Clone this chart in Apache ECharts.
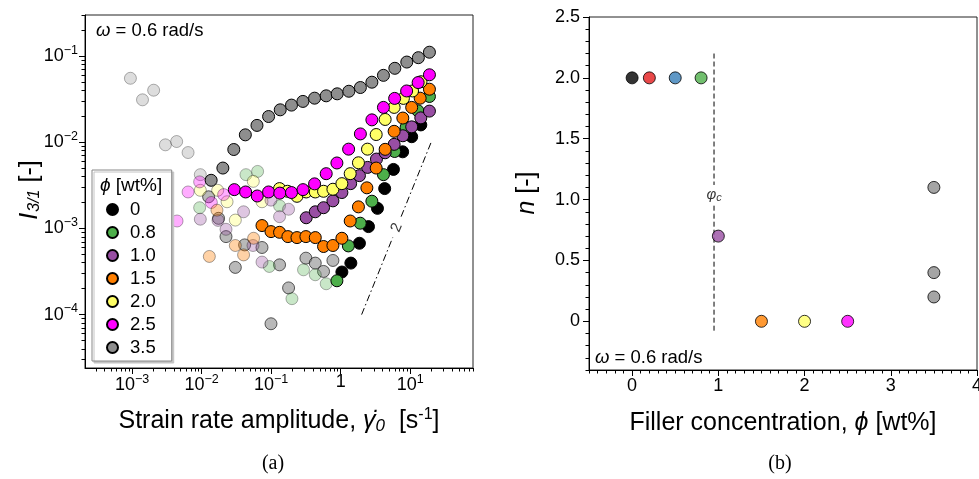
<!DOCTYPE html>
<html><head><meta charset="utf-8">
<script src="https://cdn.jsdelivr.net/npm/echarts@6/dist/echarts.min.js"></script>
<style>html,body{margin:0;padding:0;background:#fff}#c{width:979px;height:479px}</style>
</head><body><div id="c"></div>
<script>
const FONT = '"Liberation Sans", Arial, Helvetica, sans-serif';
const SERIF = '"Liberation Serif", "Times New Roman", serif';

// ---------- Panel (a): [strain rate amplitude (1/s), I3/1 (-)] ----------
const phiLabels = ['0', '0.8', '1.0', '1.5', '2.0', '2.5', '3.5'];
const i31_phi0 = [[1.04,3.12e-4],[1.40,3.96e-4],[1.86,6.73e-4],[2.51,1.05e-3],[3.38,1.71e-3],[4.29,2.90e-3],[5.74,4.84e-3],[7.78,7.75e-3],[10.5,1.16e-2],[14.2,1.59e-2]];
const i31_phi08 = [[0.882,2.47e-4],[1.29,6.27e-4],[1.91,1.15e-3],[2.81,2.07e-3],[4.12,4.21e-3],[5.97,7.82e-3],[8.73,1.49e-2],[12.9,2.32e-2],[18.9,3.40e-2]];
const i31_phi10 = [[0.319,1.33e-3],[0.431,1.56e-3],[0.567,1.74e-3],[0.773,2.09e-3],[1.04,2.61e-3],[1.39,3.31e-3],[1.86,4.10e-3],[2.44,5.11e-3],[3.27,6.38e-3],[4.36,7.55e-3],[5.87,9.46e-3],[7.83,1.19e-2],[10.5,1.51e-2],[14.2,1.92e-2],[18.9,2.30e-2]];
const i31_phi15 = [[0.0738,1.08e-3],[0.0994,9.19e-4],[0.132,9.02e-4],[0.174,8.04e-4],[0.235,7.83e-4],[0.316,8.04e-4],[0.431,7.83e-4],[0.567,6.17e-4],[0.773,6.34e-4],[1.04,7.69e-4],[1.37,1.22e-3],[1.80,1.78e-3],[2.38,2.96e-3],[3.24,5.02e-3],[4.36,8.28e-3],[5.87,1.34e-2],[7.83,1.91e-2],[10.5,2.54e-2],[13.9,3.25e-2],[18.9,4.13e-2]];
const i31_phi20 = [[0.132,2.90e-3],[0.172,2.70e-3],[0.235,2.36e-3],[0.319,2.65e-3],[0.431,2.65e-3],[0.567,2.70e-3],[0.773,2.85e-3],[1.04,3.31e-3],[1.37,4.32e-3],[1.80,5.78e-3],[2.43,8.32e-3],[3.24,1.23e-2],[4.36,1.84e-2],[5.87,2.54e-2],[7.98,3.23e-2],[10.8,3.94e-2],[14.3,5.04e-2]];
const i31_phi25 = [[0.0295,2.82e-3],[0.0429,2.65e-3],[0.0631,2.38e-3],[0.0918,2.65e-3],[0.133,2.57e-3],[0.196,2.61e-3],[0.287,2.82e-3],[0.421,3.29e-3],[0.619,4.32e-3],[0.882,5.75e-3],[1.30,8.32e-3],[1.92,1.25e-2],[2.81,1.82e-2],[4.12,2.54e-2],[5.97,3.23e-2],[8.88,3.94e-2],[13.0,4.93e-2],[18.9,6.07e-2]];
const i31_phi35 = [[0.0137,3.62e-3],[0.0202,5.02e-3],[0.0290,8.24e-3],[0.0425,1.22e-2],[0.0625,1.57e-2],[0.0918,1.99e-2],[0.135,2.38e-2],[0.196,2.70e-2],[0.286,2.98e-2],[0.421,3.25e-2],[0.619,3.46e-2],[0.891,3.65e-2],[1.31,3.91e-2],[1.92,4.32e-2],[2.81,4.98e-2],[4.12,5.98e-2],[6.01,7.22e-2],[8.93,8.53e-2],[13.1,9.59e-2],[18.9,0.111]];

// faded (unreliable, low-torque) points
const fade_phi35_light = [[9.45e-4,0.0553],[1.41e-3,0.0311],[2.04e-3,0.0402],[3.01e-3,9.34e-3],[4.37e-3,1.02e-2],[6.38e-3,7.60e-3],[9.57e-3,4.21e-3]];
const fade_phi35_mid = [[0.0126,2.33e-3],[0.0175,1.31e-3],[0.0224,8.04e-4],[0.0305,3.53e-4],[0.0415,6.44e-4],[0.0738,6.01e-4],[0.132,3.78e-4],[0.178,2.04e-4],[0.0994,7.83e-5],[0.316,4.52e-4],[0.431,3.96e-4],[0.567,3.17e-4],[0.773,4.25e-4]];
const fade_phi08 = [[0.0434,4.21e-3],[0.0638,4.59e-3],[9.36e-3,1.74e-3],[0.132,1.83e-3],[0.094,3.62e-4],[0.199,1.53e-4],[0.292,3.31e-4],[0.431,2.90e-4],[0.619,2.28e-4]];
const fade_phi20 = [[0.0553,3.52e-3],[9.57e-3,2.77e-3],[0.0170,2.77e-3],[0.0232,2.04e-3],[0.0305,1.25e-3],[0.0738,2.04e-3]];
const fade_phi25 = [[9.36e-3,3.47e-3],[6.38e-3,2.65e-3],[0.0207,2.47e-3],[0.0138,2.00e-3],[4.43e-3,1.22e-3]];
const fade_phi10 = [[9.57e-3,1.28e-3],[0.0172,1.24e-3],[0.0401,1.56e-3],[0.0224,9.77e-4],[0.0548,6.34e-4],[0.0738,4.07e-4],[0.178,1.67e-3],[0.132,1.37e-3],[0.0994,2.13e-3]];
const fade_phi15 = [[0.0166,1.63e-3],[0.0305,6.34e-4],[0.0401,4.93e-4],[0.0559,7.69e-4],[0.0129,4.73e-4]];

// slope-2 guide line (two pieces around its label) and the label anchor
const slopeGuideLower = [[2, 1.0e-4], [5.6, 7.84e-4]];
const slopeGuideUpper = [[7.4, 1.37e-3], [20, 1.0e-2]];
const slopeLabelAt = [[6.4, 1.02e-3]];

// axis ticks panel (a)
const xMajorA = [1e-3, 1e-2, 1e-1, 1, 10];
const yMajorA = [1e-4, 1e-3, 1e-2, 1e-1];

// ---------- Panel (b): filler concentration vs exponent n ----------
const phiB = [0, 0.2, 0.5, 0.8, 1.0, 1.5, 2.0, 2.5, 3.5, 3.5, 3.5];
const nB   = [2, 2, 2, 2, 0.7, 0, 0, 0, 1.1, 0.4, 0.2];
const phiCritLineUpper = [[0.95, 2.2], [0.95, 1.12]];
const phiCritLineLower = [[0.95, 0.95], [0.95, -0.1]];
const phiCritLabelAt = [[0.95, 1.035]];
const xMajorB = [0, 1, 2, 3, 4];
const yMajorB = [0, 0.5, 1.0, 1.5, 2.0, 2.5];

// ---------- styles ----------
const seriesColors = ['#000000', '#4daf4a', '#984ea3', '#ff7f00', '#ffff66', '#ff00ff', '#8e8e8e'];
const colorsB = ['#000000', '#e41a1c', '#377eb8', '#4daf4a', '#984ea3', '#ff7f00', '#ffff66', '#ff00ff', '#8e8e8e', '#8e8e8e', '#8e8e8e'];

function logMinors(lo, hi) {
  const out = [];
  for (let e = -6; e <= 3; e++) for (let m = 2; m <= 9; m++) {
    const v = +(m * Math.pow(10, e)).toPrecision(3);
    if (v >= lo && v <= hi) out.push(v);
  }
  return out;
}
function linMinors(lo, hi, step, majorStep) {
  const out = [];
  for (let i = Math.round(lo / step); i <= Math.round(hi / step); i++) {
    const v = +(i * step).toFixed(3);
    if (Math.abs(v / majorStep - Math.round(v / majorStep)) > 1e-6) out.push(v);
  }
  return out;
}
const XA = [2.1e-4, 80], YA = [2.4e-5, 0.3], XB = [-0.5, 4], YB = [-0.4, 2.5];

function powLabel(v) {
  const e = Math.round(Math.log10(v));
  if (e === 0) return '{b|1}';
  return '{b|10}{s|' + (e < 0 ? '\u2212' : '') + Math.abs(e) + '}';
}
const powRich = {
  b: { fontSize: 18, fontFamily: FONT, color: '#000' },
  s: { fontSize: 12.5, fontFamily: FONT, color: '#000', padding: [0, 0, 12, 0] }
};

const lineStyleAx = { color: '#000', width: 1 };
function mainAxis(type, grid, ext, majors, labelFmt, rich, pos, margin) {
  return {
    type, gridIndex: grid, min: ext[0], max: ext[1], position: pos,
    axisLine: { show: true, onZero: false, lineStyle: lineStyleAx },
    axisTick: { show: true, inside: false, length: 6, customValues: majors, lineStyle: lineStyleAx },
    axisLabel: { show: true, customValues: majors, formatter: labelFmt, rich, margin, color: '#000', fontSize: 18, fontFamily: FONT },
    splitLine: { show: false }, minorTick: { show: false }
  };
}
function minorAxis(type, grid, ext, minors, pos) {
  return {
    type, gridIndex: grid, min: ext[0], max: ext[1], position: pos,
    axisLine: { show: false, onZero: false },
    axisTick: { show: true, inside: false, length: 3.5, customValues: minors, lineStyle: lineStyleAx },
    axisLabel: { show: false }, splitLine: { show: false }
  };
}
const numFmtB = v => (v === 0 ? '0' : (Number.isInteger(v) && v > 2.5 ? String(v) : v.toFixed(1)));

const strongData = [i31_phi0, i31_phi08, i31_phi10, i31_phi15, i31_phi20, i31_phi25, i31_phi35];
const fadedSets = [
  [fade_phi35_light, 6, 0.3], [fade_phi35_mid, 6, 0.62], [fade_phi08, 1, 0.3], [fade_phi20, 4, 0.35],
  [fade_phi25, 5, 0.32], [fade_phi10, 2, 0.32], [fade_phi15, 3, 0.35]
];

const series = [];
fadedSets.forEach((f, k) => series.push({
  type: 'scatter', name: 'faded-' + k, xAxisIndex: 0, yAxisIndex: 0, data: f[0], symbolSize: 12, z: 2,
  itemStyle: { color: seriesColors[f[1]], borderColor: '#000', borderWidth: 1, opacity: f[2] }, silent: true
}));
strongData.forEach((d, k) => series.push({
  type: 'scatter', name: phiLabels[k], xAxisIndex: 0, yAxisIndex: 0, data: d, symbolSize: 12, z: 3,
  itemStyle: { color: seriesColors[k], borderColor: '#000', borderWidth: 1, opacity: 1 }
}));
[slopeGuideLower, slopeGuideUpper].forEach((d, k) => series.push({
  type: 'line', name: 'slope' + k, xAxisIndex: 0, yAxisIndex: 0, data: d, symbol: 'none', silent: true, z: 2,
  lineStyle: { color: '#000', width: 1, type: [7, 3, 1.5, 3] }
}));
series.push({
  type: 'scatter', name: 'slopeLabel', xAxisIndex: 0, yAxisIndex: 0, data: slopeLabelAt, symbolSize: 1, silent: true,
  itemStyle: { color: 'rgba(0,0,0,0)' },
  label: { show: true, position: 'inside', formatter: '2', rotate: 68, fontSize: 15, fontFamily: FONT, color: '#000' }
});
// panel (b)
series.push({
  type: 'scatter', name: 'nB', xAxisIndex: 1, yAxisIndex: 1, symbolSize: 12, z: 3,
  data: phiB.map((p, i) => ({ value: [p, nB[i]], itemStyle: { color: colorsB[i] } })),
  itemStyle: { borderColor: '#000', borderWidth: 1 }
});
[phiCritLineUpper, phiCritLineLower].forEach((d, k) => series.push({
  type: 'line', name: 'phic' + k, xAxisIndex: 1, yAxisIndex: 1, data: d, symbol: 'none', silent: true,
  lineStyle: { color: '#000', width: 1, type: [5, 3] }
}));
series.push({
  type: 'scatter', name: 'phicLabel', xAxisIndex: 1, yAxisIndex: 1, data: phiCritLabelAt, symbolSize: 1, silent: true,
  itemStyle: { color: 'rgba(0,0,0,0)' },
  label: { show: true, position: 'inside', formatter: '{i|\u03c6}{s|c}',
    rich: { i: { fontSize: 15, fontStyle: 'italic', fontFamily: FONT, color: '#000' },
            s: { fontSize: 11, fontStyle: 'italic', fontFamily: FONT, color: '#000', padding: [6, 0, 0, 0] } } }
});

const gridBase = { show: true, borderColor: '#222', borderWidth: 1, backgroundColor: 'transparent', containLabel: false, outerBoundsMode: 'none' };

const option = {
  animation: false,
  backgroundColor: '#fff',
  textStyle: { fontFamily: FONT },
  grid: [
    Object.assign({ left: 85, top: 15, width: 388, height: 353 }, gridBase),
    Object.assign({ left: 589, top: 17, width: 388, height: 353 }, gridBase)
  ],
  xAxis: [
    mainAxis('log', 0, XA, xMajorA, powLabel, powRich, 'bottom', 5),
    mainAxis('value', 1, XB, xMajorB, v => String(v), undefined, 'bottom', 7),
    minorAxis('log', 0, XA, logMinors(XA[0], XA[1]), 'bottom'),
    minorAxis('value', 1, XB, linMinors(XB[0], XB[1], 0.1, 1), 'bottom')
  ],
  yAxis: [
    mainAxis('log', 0, YA, yMajorA, powLabel, powRich, 'left', 7),
    mainAxis('value', 1, YB, yMajorB, numFmtB, undefined, 'left', 9),
    minorAxis('log', 0, YA, logMinors(YA[0], YA[1]), 'left'),
    minorAxis('value', 1, YB, linMinors(YB[0], YB[1], 0.1, 0.5), 'left')
  ],
  legend: {
    data: phiLabels, orient: 'vertical', left: 92, top: 170, z: 20,
    padding: [30, 16, 4, 14], itemWidth: 11, itemHeight: 11, itemGap: 4,
    backgroundColor: '#fff', borderColor: '#888', borderWidth: 1, borderRadius: 0,
    shadowColor: '#c4c4c4', shadowBlur: 0, shadowOffsetX: 2, shadowOffsetY: 2,
    textStyle: { fontSize: 18.5, lineHeight: 19, color: '#000', fontFamily: FONT, padding: [0, 0, 0, 7] },
    selectedMode: false
  },
  graphic: [
    { type: 'text', z: 100, x: 100, y: 186, style: { text: '{i|\u03d5}{n| [wt%]}', align: 'left', verticalAlign: 'middle',
        rich: { i: { fontSize: 19, fontStyle: 'italic', fontFamily: FONT, fill: '#000' }, n: { fontSize: 19, fontFamily: FONT, fill: '#000' } } } },
    { type: 'text', z: 100, x: 96, y: 31, style: { text: '{i|\u03c9}{n| = 0.6 rad/s}', align: 'left', verticalAlign: 'middle',
        rich: { i: { fontSize: 18.5, fontStyle: 'italic', fontFamily: FONT, fill: '#000' }, n: { fontSize: 18.5, fontFamily: FONT, fill: '#000' } } } },
    { type: 'text', z: 100, x: 595, y: 358, style: { text: '{i|\u03c9}{n| = 0.6 rad/s}', align: 'left', verticalAlign: 'middle',
        rich: { i: { fontSize: 18.5, fontStyle: 'italic', fontFamily: FONT, fill: '#000' }, n: { fontSize: 18.5, fontFamily: FONT, fill: '#000' } } } },
    { type: 'text', z: 100, x: 30, y: 190, rotation: Math.PI / 2, style: { text: '{i|I}{s|3/1}{n| [-]}', align: 'center', verticalAlign: 'middle',
        rich: { i: { fontSize: 25, fontStyle: 'italic', fontFamily: FONT, fill: '#000' },
                s: { fontSize: 16, fontStyle: 'italic', fontFamily: FONT, fill: '#000', padding: [10, 0, 0, 1] },
                n: { fontSize: 25, fontFamily: FONT, fill: '#000' } } } },
    { type: 'text', z: 100, x: 527, y: 193, rotation: Math.PI / 2, style: { text: '{i|n}{n| [-]}', align: 'center', verticalAlign: 'middle',
        rich: { i: { fontSize: 25, fontStyle: 'italic', fontFamily: FONT, fill: '#000' }, n: { fontSize: 25, fontFamily: FONT, fill: '#000' } } } },
    { type: 'text', z: 100, x: 279, y: 421, style: { text: '{n|Strain rate amplitude, }{i|\u03b3\u0307}{s|0}{n|  [s}{p|-1}{n|]}', align: 'center', verticalAlign: 'middle',
        rich: { n: { fontSize: 25, fontFamily: FONT, fill: '#000' },
                i: { fontSize: 25, fontStyle: 'italic', fontFamily: FONT, fill: '#000' },
                s: { fontSize: 17, fontStyle: 'italic', fontFamily: FONT, fill: '#000', padding: [10, 0, 0, 0] },
                p: { fontSize: 16, fontFamily: FONT, fill: '#000', padding: [0, 0, 12, 0] } } } },
    { type: 'text', z: 100, x: 783, y: 423, style: { text: '{n|Filler concentration, }{i|\u03d5}{n| [wt%]}', align: 'center', verticalAlign: 'middle',
        rich: { n: { fontSize: 25, fontFamily: FONT, fill: '#000' }, i: { fontSize: 25, fontStyle: 'italic', fontFamily: FONT, fill: '#000' } } } },
    { type: 'text', z: 100, x: 273, y: 464, style: { text: '(a)', align: 'center', verticalAlign: 'middle', fontSize: 20, fontFamily: SERIF, fill: '#000' } },
    { type: 'text', z: 100, x: 780, y: 464, style: { text: '(b)', align: 'center', verticalAlign: 'middle', fontSize: 20, fontFamily: SERIF, fill: '#000' } }
  ],
  series
};
const chart = echarts.init(document.getElementById('c'), null, { renderer: 'canvas' });
chart.setOption(option);
</script></body></html>
